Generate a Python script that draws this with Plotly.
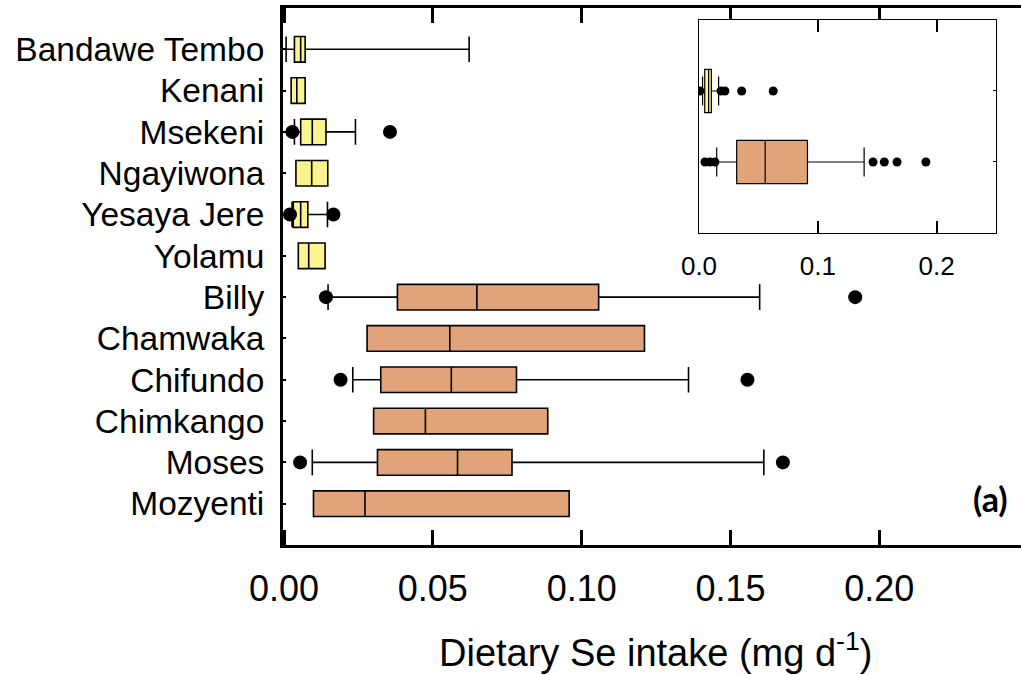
import plotly.graph_objects as go

# ---------------- data (main panel) ----------------
sites = ["Bandawe Tembo", "Kenani", "Msekeni", "Ngayiwona", "Yesaya Jere", "Yolamu",
         "Billy", "Chamwaka", "Chifundo", "Chimkango", "Moses", "Mozyenti"]
low_sites = sites[:6]
high_sites = sites[6:]

q1 = [0.0035, 0.0024, 0.0056, 0.0040, 0.0031, 0.0048,
      0.0381, 0.0279, 0.0325, 0.0301, 0.0314, 0.0099]
median = [0.0056, 0.0043, 0.0095, 0.0093, 0.0056, 0.0083,
          0.0648, 0.0557, 0.0562, 0.0475, 0.0583, 0.0272]
q3 = [0.0071, 0.0071, 0.0141, 0.0147, 0.0080, 0.0138,
      0.1057, 0.1211, 0.0781, 0.0886, 0.0766, 0.0958]
lower_whisker = [0.0007, 0.0024, 0.0035, 0.0040, 0.0027, 0.0048,
                 0.0148, 0.0279, 0.0231, 0.0301, 0.0095, 0.0099]
upper_whisker = [0.0622, 0.0071, 0.0240, 0.0147, 0.0146, 0.0138,
                 0.1598, 0.1211, 0.1359, 0.0886, 0.1612, 0.0958]

outlier_sites = ["Msekeni", "Msekeni", "Yesaya Jere", "Yesaya Jere", "Billy", "Billy",
                 "Chifundo", "Chifundo", "Moses", "Moses"]
outlier_values = [0.0028, 0.0356, 0.0020, 0.0166, 0.0141, 0.1919,
                  0.0190, 0.1557, 0.0054, 0.1676]

x_ticks = [0.00, 0.05, 0.10, 0.15, 0.20]
x_ticktext = ["0.00", "0.05", "0.10", "0.15", "0.20"]

# ---------------- data (inset, pooled) ----------------
inset_groups = ["low", "high"]
inset_q1 = [0.0048, 0.0317]
inset_median = [0.0081, 0.0557]
inset_q3 = [0.0104, 0.0913]
inset_lower = [0.0030, 0.0149]
inset_upper = [0.0165, 0.1390]
inset_out_low = [0.0008, 0.0185, 0.0218, 0.0359, 0.0625]
inset_out_high = [0.0050, 0.0092, 0.0134, 0.1465, 0.1560, 0.1667, 0.1910]
inset_ticks = [0.0, 0.1, 0.2]
inset_ticktext = ["0.0", "0.1", "0.2"]

YELLOW = "#F9F48F"
ORANGE = "#E1A47A"
FONT = "Liberation Sans"

pos = {s: i for i, s in enumerate(sites)}

fig = go.Figure()


def add_box(names, color):
    idx = [pos[n] for n in names]
    fig.add_trace(go.Box(
        orientation="h",
        y=idx,
        q1=[q1[i] for i in idx],
        median=[median[i] for i in idx],
        q3=[q3[i] for i in idx],
        lowerfence=[lower_whisker[i] for i in idx],
        upperfence=[upper_whisker[i] for i in idx],
        width=0.62,
        whiskerwidth=1,
        fillcolor=color,
        line=dict(color="black", width=1.6),
        boxpoints=False,
        showlegend=False,
        hoverinfo="skip",
    ))


add_box(low_sites, YELLOW)
add_box(high_sites, ORANGE)

fig.add_trace(go.Scatter(
    x=outlier_values,
    y=[pos[s] for s in outlier_sites],
    mode="markers",
    marker=dict(color="black", size=14),
    showlegend=False, hoverinfo="skip",
))

# inset
for gi, color in enumerate([YELLOW, ORANGE]):
    fig.add_trace(go.Box(
        orientation="h",
        y=[gi],
        q1=[inset_q1[gi]], median=[inset_median[gi]], q3=[inset_q3[gi]],
        lowerfence=[inset_lower[gi]], upperfence=[inset_upper[gi]],
        width=0.61, whiskerwidth=0.67,
        fillcolor=color,
        line=dict(color="black", width=1.2),
        boxpoints=False, showlegend=False, hoverinfo="skip",
        xaxis="x2", yaxis="y2",
    ))

fig.add_trace(go.Scatter(
    x=inset_out_low + inset_out_high,
    y=[0] * len(inset_out_low) + [1] * len(inset_out_high),
    mode="markers", marker=dict(color="black", size=9),
    showlegend=False, hoverinfo="skip",
    xaxis="x2", yaxis="y2",
))

fig.update_layout(
    width=1021, height=675,
    margin=dict(l=283, r=0, t=8, b=130),
    paper_bgcolor="white", plot_bgcolor="white",
    font=dict(family=FONT, color="black", size=14),
    xaxis=dict(
        range=[-0.00034, 0.2476],
        showline=True, linewidth=3, linecolor="black", mirror="ticks",
        ticks="inside", ticklen=15, tickwidth=3, tickcolor="black",
        tickvals=x_ticks, ticktext=x_ticktext,
        tickfont=dict(size=36, family=FONT, color="black"),
        ticklabelstandoff=10,
        showgrid=False, zeroline=False,
    ),
    yaxis=dict(
        range=[12, -1],
        showline=True, linewidth=3, linecolor="black", mirror=False,
        ticks="inside", ticklen=3, tickwidth=2, tickcolor="black",
        tickvals=list(range(len(sites))), ticktext=sites,
        tickfont=dict(size=33.5, family=FONT, color="black"),
        ticklabelstandoff=9,
        showgrid=False, zeroline=False,
    ),
    xaxis2=dict(
        domain=[0.5637, 0.9661], anchor="y2",
        range=[0, 0.25],
        showline=True, linewidth=1, linecolor="black", mirror="ticks",
        ticks="inside", ticklen=12, tickwidth=1.5, tickcolor="black",
        tickvals=inset_ticks, ticktext=inset_ticktext,
        tickfont=dict(size=26, family=FONT, color="black"),
        ticklabelstandoff=10,
        showgrid=False, zeroline=False,
    ),
    yaxis2=dict(
        domain=[0.581, 0.9777], anchor="x2",
        range=[2, -1], side="right",
        showline=True, linewidth=1, linecolor="black", mirror=True,
        ticks="inside", ticklen=3, tickwidth=1, tickcolor="black",
        tickvals=[0, 1], showticklabels=False,
        showgrid=False, zeroline=False,
    ),
    annotations=[
        dict(text="Dietary Se intake (mg d<sup>-1</sup>)", xref="paper", yref="paper",
             x=0.5054, y=-0.1955, xanchor="center", yanchor="middle",
             showarrow=False, font=dict(size=38, family=FONT, color="black")),
        dict(text="<b>(a)</b>", xref="paper", yref="paper",
             x=0.9593, y=0.0875, xanchor="center", yanchor="middle",
             showarrow=False, font=dict(size=34, family="Lato", color="black")),
    ],
)

fig.write_html("out.html")
